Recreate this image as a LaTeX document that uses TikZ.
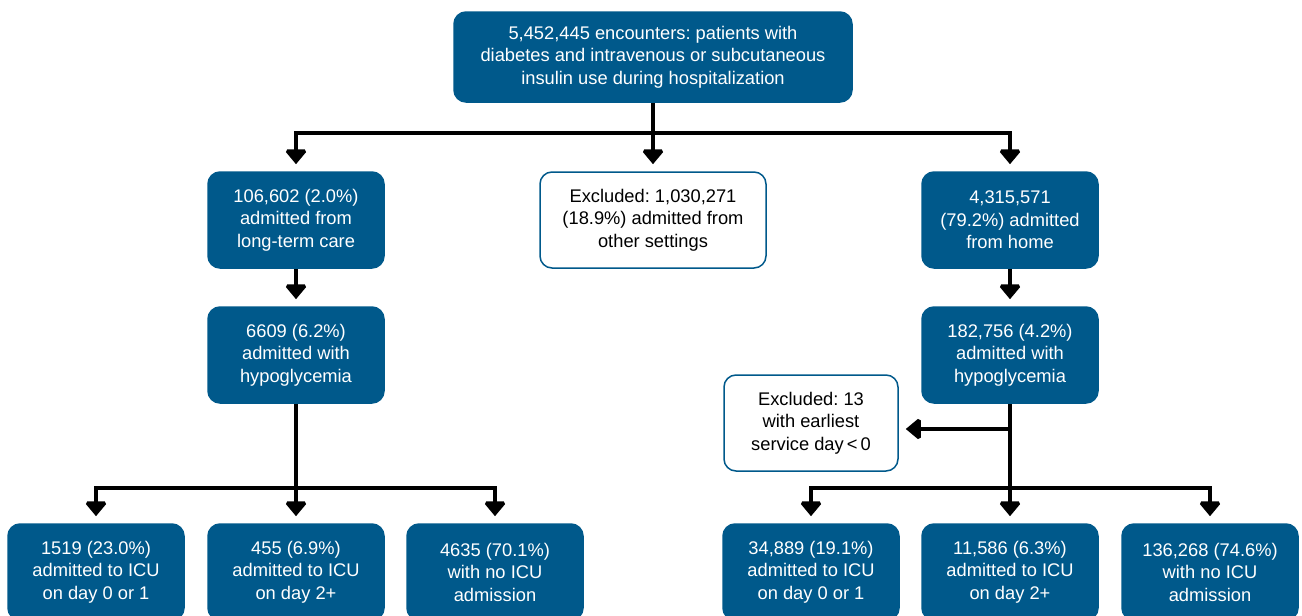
\documentclass[tikz,border=0pt]{standalone}
\usepackage{fontspec}
\setmainfont{Liberation Sans}
\usetikzlibrary{arrows.meta}
\definecolor{boxblue}{RGB}{0,89,139}
\frenchspacing

\begin{document}
\begin{tikzpicture}[x=1pt,y=-1pt]
		\tikzset{fillbox/.style={draw=boxblue, fill=boxblue, text=white, rounded corners=12pt, line width=1.5pt,
				minimum width=176pt, minimum height=96pt, align=center, inner sep=0pt, font=\fontsize{18.3}{22.5}\selectfont}}
		\tikzset{exclbox/.style={fillbox, fill=white, text=black}}
		\tikzset{link/.style={line width=3.5pt, miter limit=2}}
		\tikzset{arr/.style={link, -{Triangle[width=24pt,length=15pt]}, shorten >=7pt}}
		\useasboundingbox (0,0) rectangle (1302,616);
		% first level
		\node[fillbox, minimum width=398pt, minimum height=90pt] (all) at (653,57) {5,452,445 encounters: patients with\\diabetes and intravenous or subcutaneous\\insulin use during hospitalization};
		\node[fillbox] (ltc) at (296,220) {106,602 (2.0\%)\\admitted from\\long-term care};
		\node[exclbox, minimum width=226pt] (other) at (653,220) {Excluded: 1,030,271\\(18.9\%) admitted from\\other settings};
		\node[fillbox] (home) at (1010,220) {4,315,571\\(79.2\%) admitted\\from home};
		% hypoglycemia
		\node[fillbox] (hypoL) at (296,355) {6609 (6.2\%)\\admitted with\\hypoglycemia};
		\node[fillbox] (hypoR) at (1010,355) {182,756 (4.2\%)\\admitted with\\hypoglycemia};
		\node[exclbox, minimum width=174pt] (early) at (811,423) {Excluded: 13\\with earliest\\service day\,<\,0};
		% ICU
		\node[fillbox] (icuL1) at (96,572) {1519 (23.0\%)\\admitted to ICU\\on day 0 or 1};
		\node[fillbox] (icuL2) at (296,572) {455 (6.9\%)\\admitted to ICU\\on day 2+};
		\node[fillbox] (icuL3) at (495,572) {4635 (70.1\%)\\with no ICU\\admission};
		\node[fillbox] (icuR1) at (811,572) {34,889 (19.1\%)\\admitted to ICU\\on day 0 or 1};
		\node[fillbox] (icuR2) at (1010,572) {11,586 (6.3\%)\\admitted to ICU\\on day 2+};
		\node[fillbox] (icuR3) at (1210,572) {136,268 (74.6\%)\\with no ICU\\admission};
		\coordinate (split1) at (653,133);
		\coordinate (split2) at (296,488);
		\coordinate (split3) at (1010,429);
		\coordinate (split4) at (1010,488);
		\draw[link] (all) -- (split1);
		\draw[arr] (split1) -| (ltc.north);
		\draw[arr] (split1) -- (other.north);
		\draw[arr] (split1) -| (home.north);
		\draw[arr] (ltc) -- (hypoL);
		\draw[arr] (home) -- (hypoR);
		\draw[link] (hypoL) -- (split2);
		\draw[arr] (split2) -| (icuL1.north);
		\draw[arr] (split2) -- (icuL2.north);
		\draw[arr] (split2) -| (icuL3.north);
		\draw[link] (hypoR) -- (split4);
		\draw[arr] (split3) -- (split3 -| early.east);
		\draw[arr] (split4) -| (icuR1.north);
		\draw[arr] (split4) -- (icuR2.north);
		\draw[arr] (split4) -| (icuR3.north);
\end{tikzpicture}
\end{document}
